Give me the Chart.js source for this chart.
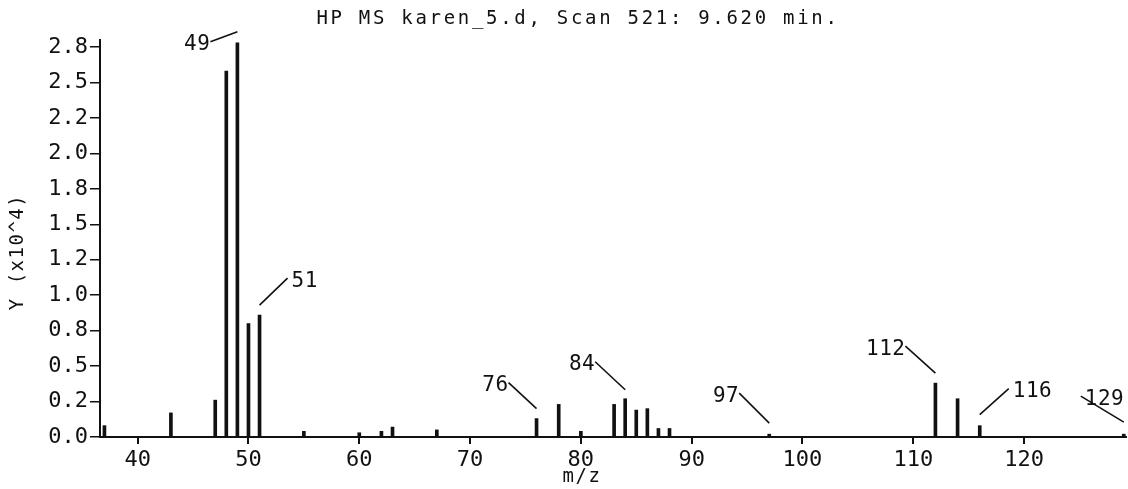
<!DOCTYPE html>
<html>
<head>
<meta charset="utf-8">
<script src="https://cdn.jsdelivr.net/npm/chart.js@4"></script>
<style>
  html, body { margin: 0; padding: 0; background: #fff; }
  #spectrum { display: block; }
</style>
</head>
<body>
<canvas id="spectrum" width="1128" height="489"></canvas>
<script>
// Scan 521 ion list (abundance in units of 10^4)
const mz = [37, 43, 47, 48, 49, 50, 51, 55, 60, 62, 63, 67, 76, 78, 80, 83, 84, 85, 86, 87, 88, 97, 112, 114, 116, 129];
const abundance = [0.08, 0.17, 0.26, 2.58, 2.78, 0.80, 0.86, 0.04, 0.03, 0.04, 0.07, 0.05, 0.13, 0.23, 0.04, 0.23, 0.27, 0.19, 0.2, 0.06, 0.06, 0.02, 0.38, 0.27, 0.08, 0.02];

// labelled peaks
const peakLabelMz = [49, 51, 76, 84, 97, 112, 116, 129];

const xTicks = [40, 50, 60, 70, 80, 90, 100, 110, 120];
const yTickValues = [0, 0.25, 0.5, 0.75, 1, 1.25, 1.5, 1.75, 2, 2.25, 2.5, 2.75];
const yTickLabels = ['0.0', '0.2', '0.5', '0.8', '1.0', '1.2', '1.5', '1.8', '2.0', '2.2', '2.5', '2.8'];

const titleText = 'HP MS karen_5.d, Scan 521: 9.620 min.';
const xTitle = 'm/z';
const yTitle = 'Y (x10^4)';

// leader line geometry for each labelled peak (pixels)
const leaderGap = [11, 10, 10, 9, 11, 10, 11, 12];
const leaderDx = [-27, 28, -28, -30, -30, -30, 29, -43];
const leaderDy = [10, -27, -26, -28, -30, -27, -26, -26];
const labelAlign = ['right', 'left', 'right', 'right', 'right', 'right', 'left', 'left'];

const INK = '#111';
const MONO = '"DejaVu Sans Mono", "Liberation Mono", monospace';

const plotterText = {
  id: 'plotterText',
  afterDraw(chart) {
    const ctx = chart.ctx;
    const xs = chart.scales.x;
    const ys = chart.scales.y;
    ctx.save();
    ctx.fillStyle = INK;
    ctx.strokeStyle = INK;
    ctx.textBaseline = 'middle';

    // title
    ctx.font = '19px ' + MONO;
    ctx.letterSpacing = '2.7px';
    ctx.textAlign = 'center';
    ctx.fillText(titleText, 578, 19);

    // axis titles
    ctx.font = '19px ' + MONO;
    ctx.letterSpacing = '1.5px';
    ctx.fillText(xTitle, 582, 477);
    ctx.save();
    ctx.translate(18, 252);
    ctx.rotate(-Math.PI / 2);
    ctx.fillText(yTitle, 0, 0);
    ctx.restore();

    // short tick marks under the m/z axis
    ctx.lineWidth = 2;
    xTicks.forEach(v => {
      const px = Math.round(xs.getPixelForValue(v));
      ctx.beginPath();
      ctx.moveTo(px, xs.top);
      ctx.lineTo(px, xs.top + 7);
      ctx.stroke();
    });

    // peak labels with leader lines
    ctx.font = '21px ' + MONO;
    ctx.letterSpacing = '0.5px';
    ctx.lineWidth = 1.6;
    peakLabelMz.forEach((m, i) => {
      const v = abundance[mz.indexOf(m)];
      const px = xs.getPixelForValue(m);
      const top = ys.getPixelForValue(v);
      const x0 = px, y0 = top - leaderGap[i];
      const x1 = x0 + leaderDx[i], y1 = y0 + leaderDy[i];
      ctx.beginPath();
      ctx.moveTo(x0, y0);
      ctx.lineTo(x1, y1);
      ctx.stroke();
      ctx.textAlign = labelAlign[i];
      const tx = labelAlign[i] === 'right' ? x1 : x1 + 4;
      ctx.fillText(String(m), tx, y1 + 3);
    });
    ctx.restore();
  }
};

new Chart(document.getElementById('spectrum').getContext('2d'), {
  type: 'bar',
  data: {
    datasets: [{
      data: mz.map((m, i) => ({ x: m, y: abundance[i] })),
      backgroundColor: INK,
      borderWidth: 0,
      barThickness: 3
    }]
  },
  options: {
    responsive: false,
    animation: false,
    devicePixelRatio: 1,
    layout: { padding: { top: 40, right: 2, left: 0, bottom: 0 } },
    plugins: {
      legend: { display: false },
      tooltip: { enabled: false },
      title: { display: false }
    },
    scales: {
      x: {
        type: 'linear',
        min: 36.6,
        max: 129.2,
        offset: false,
        afterBuildTicks: s => { s.ticks = xTicks.map(v => ({ value: v })); },
        afterFit: s => { s.height = 52; },
        border: { display: true, color: INK, width: 2 },
        grid: { display: false },
        ticks: {
          color: INK,
          font: { family: MONO, size: 22 },
          padding: 2,
          maxRotation: 0,
          autoSkip: false
        }
      },
      y: {
        min: 0,
        max: 2.8,
        afterBuildTicks: s => { s.ticks = yTickValues.map(v => ({ value: v })); },
        afterFit: s => { s.width = 100; },
        border: { display: true, color: INK, width: 2 },
        grid: { offset: false, drawOnChartArea: false, drawTicks: true, tickLength: 10, color: INK, lineWidth: 1.5 },
        ticks: {
          color: INK,
          font: { family: MONO, size: 22 },
          padding: 2,
          autoSkip: false,
          callback: (v, i) => yTickLabels[i]
        }
      }
    }
  },
  plugins: [plotterText]
});
</script>
</body>
</html>
